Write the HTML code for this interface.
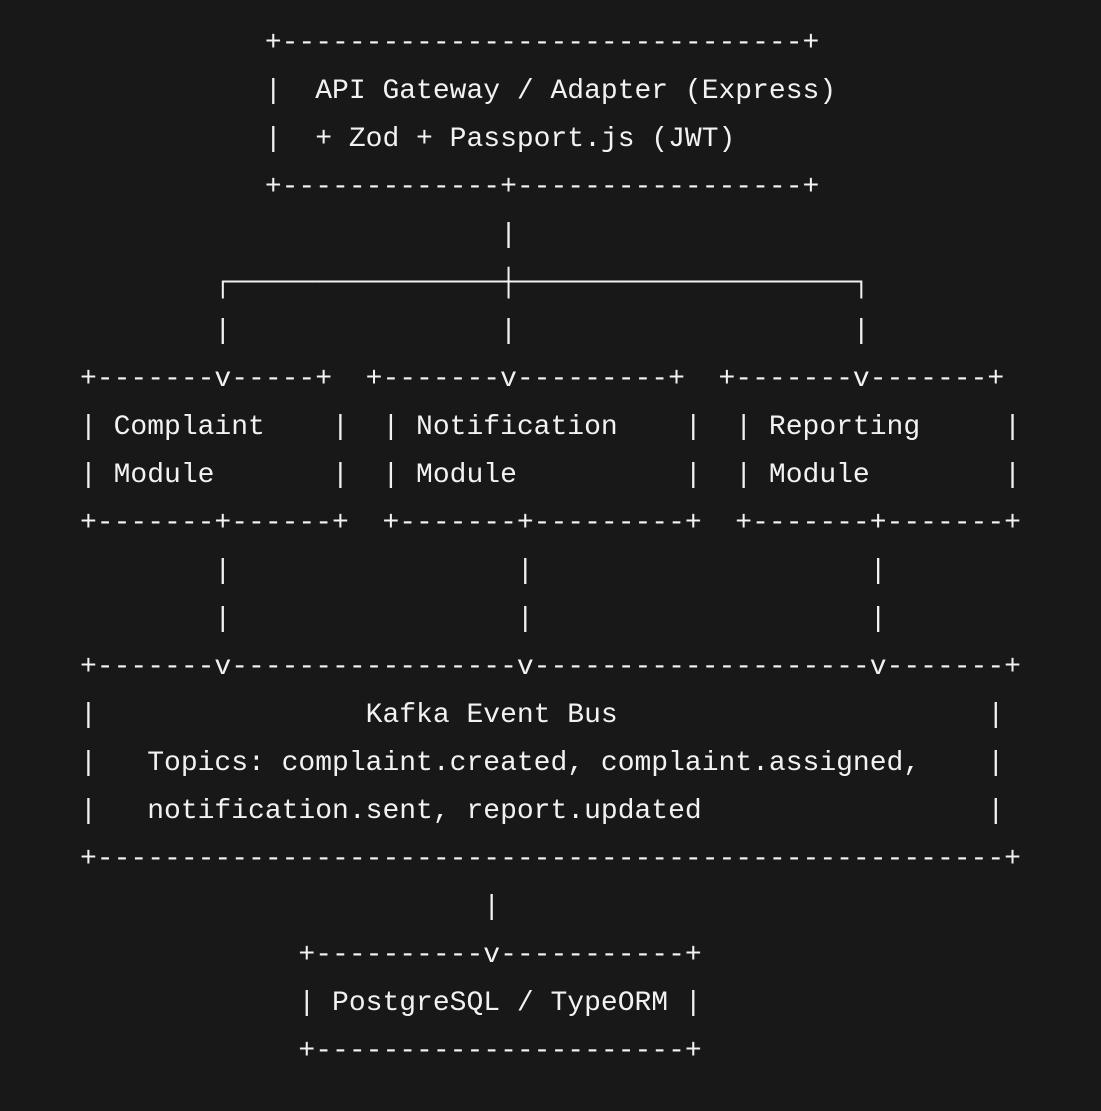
<!DOCTYPE html>
<html><head><meta charset="utf-8"><style>
html,body{margin:0;padding:0;background:#181818;width:1101px;height:1111px;overflow:hidden}
pre{position:absolute;left:80px;top:20px;margin:0;font-family:"Liberation Mono","DejaVu Sans Mono",monospace;font-size:28px;line-height:48px;color:#f2f2f2;white-space:pre}
</style></head><body><pre>           +-------------------------------+
           |  API Gateway / Adapter (Express)
           |  + Zod + Passport.js (JWT)
           +-------------+-----------------+
                         |
        ┌────────────────┼────────────────────┐
        |                |                    |
+-------v-----+  +-------v---------+  +-------v-------+
| Complaint    |  | Notification    |  | Reporting     |
| Module       |  | Module          |  | Module        |
+-------+------+  +-------+---------+  +-------+-------+
        |                 |                    |
        |                 |                    |
+-------v-----------------v--------------------v-------+
|                Kafka Event Bus                      |
|   Topics: complaint.created, complaint.assigned,    |
|   notification.sent, report.updated                 |
+------------------------------------------------------+
                        |
             +----------v-----------+
             | PostgreSQL / TypeORM |
             +----------------------+</pre></body></html>
